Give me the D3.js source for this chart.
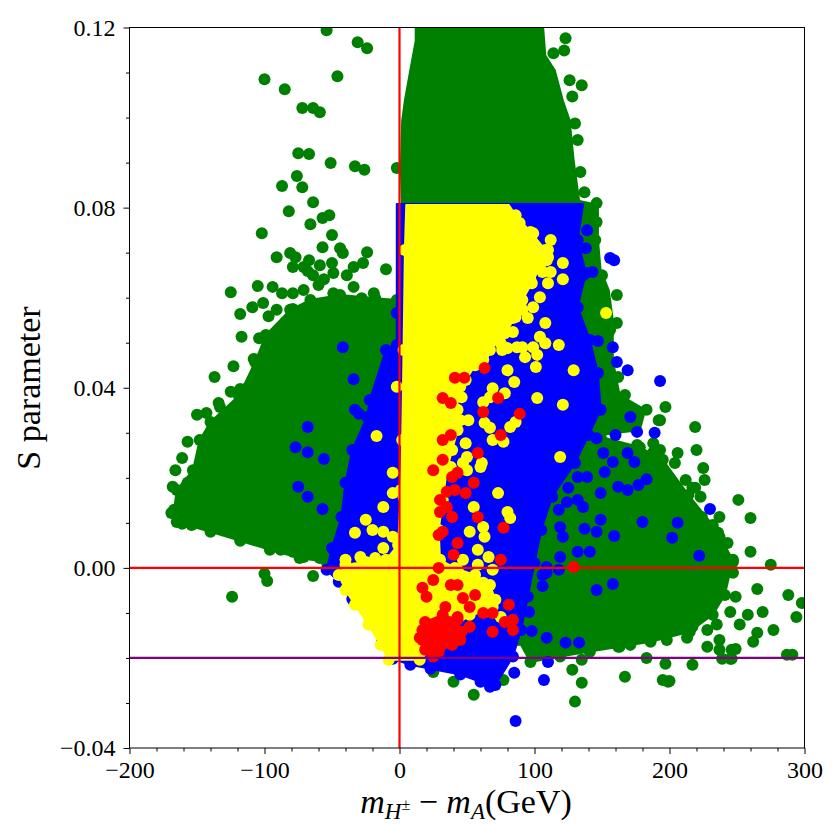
<!DOCTYPE html>
<html><head><meta charset="utf-8">
<script src="https://cdn.jsdelivr.net/npm/d3@7/dist/d3.min.js"></script>
<style>body{margin:0;background:#fff} svg{display:block} text{font-family:"Liberation Serif","Times New Roman",serif;fill:#000}</style>
</head><body><svg id="c" width="840" height="840"></svg>
<script>
// ---------- axis data ----------
const xDomain = [-200, 300];
const yDomain = [-0.04, 0.12];
const xTicks = [-200, -100, 0, 100, 200, 300];
const xTickLabels = ["\u2212200", "\u2212100", "0", "100", "200", "300"];
const xMinorTicks = [-180,-160,-140,-120,-80,-60,-40,-20,20,40,60,80,120,140,160,180,220,240,260,280];
const yTicks = [-0.04, 0.00, 0.04, 0.08, 0.12];
const yTickLabels = ["\u22120.04", "0.00", "0.04", "0.08", "0.12"];
const yMinorTicks = [-0.03,-0.02,-0.01,0.01,0.02,0.03,0.05,0.06,0.07,0.09,0.10,0.11];
const yLabel = "S parameter";
const vLines = [0];
const hLinesRed = [0];
const hLinesPurple = [-0.02];

// ---------- dense regions (outlines) ----------
const greenTopArea = [[12,0.1216],[106,0.1216],[108,0.1138],[115,0.1105],[121,0.1038],[126,0.0994],[129,0.0905],[132,0.0839],[134,0.0794],[2,0.0794],[1,0.0884],[2,0.0994],[4,0.1038],[8,0.1105],[12,0.1170]];
const greenStripArea = [[130,0.0817],[147,0.0806],[147,0.0728],[149,0.0661],[155,0.0617],[158,0.0550],[158,0.0462],[163,0.0384],[182,0.0351],[178,0.0306],[119,0.0284],[119,0.0817]];
const greenLeftArea = [[-81,0.0573],[-66,0.0595],[-44,0.0606],[-18,0.0599],[-2,0.0595],[-2,0.0328],[-23,0.0262],[-38,0.0151],[-46,0.0062],[-54,0.0013],[-74,0.0022],[-96,0.0040],[-118,0.0060],[-140,0.0080],[-161,0.0098],[-167,0.0129],[-165,0.0173],[-153,0.0217],[-148,0.0284],[-140,0.0324],[-119,0.0382],[-107,0.0457],[-99,0.0517]];
const greenRightArea = [[119,0.0284],[149,0.0291],[178,0.0268],[195,0.0240],[214,0.0162],[232,0.0095],[247,0.0018],[241,-0.0060],[232,-0.0104],[215,-0.0142],[186,-0.0164],[163,-0.0175],[141,-0.0186],[119,-0.0197],[97,-0.0209],[88,-0.0160],[95,0.0018],[106,0.0195]];
const blueArea = [[1,0.0808],[136,0.0808],[132,0.0728],[138,0.0655],[132,0.0579],[141,0.0506],[147,0.0433],[149,0.0351],[140,0.0295],[130,0.0233],[113,0.0158],[105,0.0084],[100,0.0011],[95,-0.0064],[90,-0.0138],[84,-0.0197],[71,-0.0260],[60,-0.0253],[45,-0.0237],[23,-0.0224],[8,-0.0215],[-5,-0.0202],[-13,-0.0164],[-22,-0.0113],[-35,-0.0069],[-45,-0.0031],[-54,-0.0004],[-50,0.0044],[-43,0.0113],[-40,0.0189],[-35,0.0262],[-24,0.0335],[-22,0.0373],[-10,0.0484],[-2,0.0495],[-2,0.0808]];
const yellowArea = [[5,0.0806],[81,0.0806],[86,0.0783],[97,0.0746],[108,0.0706],[104,0.0668],[98,0.0632],[91,0.0595],[86,0.0557],[78,0.0521],[67,0.0484],[56,0.0450],[49,0.0417],[43,0.0384],[43,0.0351],[43,0.0306],[39,0.0262],[35,0.0217],[32,0.0151],[29,0.0084],[30,0.0018],[41,0.0000],[56,-0.0016],[67,-0.0038],[71,-0.0071],[63,-0.0098],[52,-0.0104],[38,-0.0138],[23,-0.0182],[15,-0.0204],[-8,-0.0204],[-14,-0.0171],[-23,-0.0126],[-33,-0.0082],[-40,-0.0049],[-45,-0.0016],[-40,0.0007],[-25,0.0013],[-10,0.0018],[-1,0.0051],[1,0.0173],[2,0.0284],[3,0.0484],[4,0.0706]];
const redArea = [[19,-0.0120],[32,-0.0104],[43,-0.0115],[46,-0.0142],[39,-0.0171],[29,-0.0186],[19,-0.0182],[15,-0.0155]];

// ---------- individual points ----------
const greenPoints = [
[123,0.1176],[122,0.1149],[114,0.1143],[126,0.1083],[135,0.1072],[128,0.1047],[130,0.0987],[132,0.0950],[134,0.0879],[137,0.0834],[146,0.0810],[146,0.0768],[145,0.0728],[141,0.0695],[150,0.0650],[161,0.0606],[161,0.0544],[156,0.0528],[162,0.0424],[167,0.0384],[183,0.0351],[197,0.0357],[192,0.0328],[219,0.0313],[163,0.0357],
[-54,0.1194],[-31,0.1167],[-24,0.1154],[-100,0.1085],[-85,0.1063],[-46,0.1092],[-72,0.1021],[-64,0.1021],[-59,0.1012],[-75,0.0921],[-67,0.0919],[-51,0.0899],[-33,0.0892],[-26,0.0884],[-2,0.0888],[-76,0.0870],[-72,0.0845],[-87,0.0848],[-64,0.0812],[-82,0.0792],[-52,0.0783],[-57,0.0777],[-66,0.0763],[-102,0.0743],[-50,0.0739],[-57,0.0712],[-44,0.0710],[-42,0.0699],[-24,0.0701],[-81,0.0699],[-77,0.0690],[-91,0.0690],[-67,0.0683],[-79,0.0668],[-71,0.0668],[-59,0.0672],[-50,0.0677],[-34,0.0668],[-27,0.0677],[-10,0.0663],[-64,0.0650],[-49,0.0655],[-39,0.0650],[-68,0.0659],[-56,0.0641],
[-125,0.0612],[-105,0.0626],[-94,0.0624],[-87,0.0610],[-79,0.0610],[-71,0.0617],[-60,0.0628],[-49,0.0610],[-34,0.0624],[-19,0.0610],[-118,0.0564],[-109,0.0579],[-101,0.0588],[-97,0.0559],[-91,0.0573],[-79,0.0575],[-28,0.0599],[-12,0.0557],[-117,0.0513],[-104,0.0510],[-96,0.0510],[-85,0.0517],[-108,0.0464],[-123,0.0448],[-137,0.0424],[-94,0.0482],[-125,0.0391],[-118,0.0397],[-113,0.0399],[-134,0.0366],[-150,0.0340],[-143,0.0344],[-133,0.0357],
[-157,0.0280],[-161,0.0244],[-166,0.0217],[-168,0.0180],[-169,0.0122],[-165,0.0102],[-154,0.0095],[-145,0.0100],[-138,0.0107],[-125,0.0084],[-118,0.0069],[-105,0.0062],[-98,0.0055],[-88,0.0040],[-79,0.0036],[-71,0.0024],[-59,0.0022],[-100,-0.0013],[-98,-0.0029],[-64,-0.0018],[-124,-0.0064],[-157,0.0189],[-160,0.0151],[-153,0.0151],[-155,0.0129],[-148,0.0129],
[25,-0.0231],[40,-0.0253],[55,-0.0282],[72,-0.0226],[77,-0.0249],[128,-0.0226],[135,-0.0255],[130,-0.0297],[141,-0.0178],[167,-0.0242],[199,-0.0253],[183,-0.0200],[217,-0.0215],[197,-0.0213],[239,-0.0202],[246,-0.0202],[287,-0.0193],[291,-0.0193],[200,-0.0251],[195,-0.0249],[135,-0.0204],[162,-0.0175],[171,-0.0171],
[275,0.0007],[260,0.0036],[260,0.0111],[251,0.0151],[265,-0.0047],[288,-0.0060],[298,-0.0078],[294,-0.0109],[277,-0.0138],[265,-0.0144],[262,-0.0164],[246,-0.0182],[237,-0.0182],[228,-0.0175],[220,0.0262],[225,0.0222],[219,0.0178],[206,0.0255],[204,0.0233],[188,0.0257],[173,0.0313],[188,0.0277],[193,0.0328],[226,0.0195],[269,-0.0098],[252,-0.0126],[258,-0.0104],[245,-0.0098],[249,-0.0064],[237,0.0113],[224,0.0113],[232,0.0089],[237,0.0069],[243,0.0055],[247,0.0013],[247,-0.0011],[237,-0.0049],[235,-0.0126],[237,-0.0160],[249,-0.0180],[245,-0.0202],[191,-0.0142],[198,-0.0160],[213,-0.0155],[228,-0.0138],[217,-0.0131],[193,0.0262],[184,0.0235],[176,0.0273],[212,0.0195],[199,0.0195],[217,0.0178],[223,0.0158],[203,0.0162],[210,0.0155],[236,0.0078]
];
const bluePoints = [
[-42,0.0490],[-34,0.0419],[-33,0.0351],[-30,0.0342],[-17,0.0357],[-8,0.0468],[-68,0.0313],[-77,0.0268],[-68,0.0257],[-56,0.0242],[-75,0.0180],[-68,0.0158],[-57,0.0131],[-18,0.0313],[-2,0.0566],
[156,0.0688],[159,0.0683],[193,0.0415],[169,0.0439],[158,0.0490],[147,0.0504],[161,0.0457],[138,0.0710],[143,0.0657],[139,0.0750],[171,0.0335],[136,0.0650],
[230,0.0131],[206,0.0100],[202,0.0067],[222,0.0027],[180,0.0102],[159,0.0071],[146,0.0080],[149,0.0107],[137,0.0087],[121,0.0069],[119,0.0091],[132,0.0036],[141,0.0036],[119,0.0024],[118,-0.0004],[109,0.0002],[109,-0.0011],[106,-0.0040],[146,-0.0049],[158,-0.0036],[96,-0.0098],[98,-0.0140],[109,-0.0155],[123,-0.0166],[133,-0.0166],[110,-0.0209],[85,-0.0233],[107,-0.0249],
[183,0.0197],[177,0.0184],[169,0.0173],[162,0.0180],[149,0.0166],[152,0.0213],[151,0.0255],[158,0.0235],[169,0.0255],[174,0.0235],[139,0.0202],[132,0.0202],[125,0.0178],[113,0.0158],[118,0.0129],[124,0.0146],[132,0.0151],[136,0.0135],[176,0.0302],[189,0.0300],[160,0.0295],[146,0.0288],
[67,-0.0264],[61,-0.0244],[86,-0.0340],[106,-0.0016]
];
const yellowPoints = [
[89,0.0766],[91,0.0734],[99,0.0743],[112,0.0728],[110,0.0706],[110,0.0690],[102,0.0677],[121,0.0677],[112,0.0657],[121,0.0641],[110,0.0632],[97,0.0639],[104,0.0601],[153,0.0566],[97,0.0677],[109,0.0683],[106,0.0657],[89,0.0624],
[99,0.0579],[91,0.0573],[95,0.0555],[108,0.0544],[104,0.0513],[108,0.0499],[118,0.0495],[99,0.0490],[102,0.0473],[93,0.0468],[101,0.0446],[91,0.0490],[87,0.0490],[80,0.0488],[76,0.0484],[62,0.0473],[80,0.0439],[85,0.0413],[78,0.0388],[69,0.0399],[62,0.0368],[67,0.0379],[102,0.0377],[121,0.0362],[63,0.0322],[67,0.0311],[82,0.0313],[86,0.0324],[69,0.0284],[77,0.0280],[51,0.0328],[49,0.0277],[50,0.0246],[61,0.0233],[45,0.0328],[46,0.0379],[45,0.0402],[62,0.0462],[75,0.0499],[84,0.0524],[77,0.0524],[67,0.0521],[58,0.0506],[129,0.0439],[119,0.0246],[75,0.0568],[84,0.0555],
[60,0.0224],[50,0.0217],[73,0.0166],[55,0.0135],[80,0.0124],[82,0.0111],[62,0.0091],[52,0.0080],[63,0.0069],[58,0.0040],[66,0.0024],[69,-0.0004],[58,0.0007],[47,0.0018],[62,-0.0033],[58,-0.0053],[69,-0.0087],[75,-0.0109],[43,-0.0004],[38,0.0224],[47,0.0233],
[-5,0.0211],[-5,0.0166],[-25,0.0107],[-33,0.0078],[-20,0.0084],[-12,0.0080],[-5,0.0069],[-12,0.0044],[-18,0.0022],[-29,0.0024],[-40,0.0018],[12,0.0078],[3,0.0158],[15,0.0047],[-17,0.0293],[-2,0.0402],[-12,0.0135]
];
const redPoints = [
[63,0.0444],[41,0.0422],[48,0.0422],[32,0.0377],[38,0.0366],[73,0.0377],[62,0.0346],[89,0.0342],[75,0.0295],[38,0.0295],[32,0.0284],[58,0.0255],[32,0.0240],[25,0.0217],[39,0.0202],[43,0.0211],[55,0.0189],[49,0.0166],[41,0.0173],[35,0.0169],[30,0.0151],[30,0.0124],[35,0.0135],[39,0.0113],[58,0.0113],[77,0.0089],[32,0.0080],[29,0.0073],[43,0.0055],[40,0.0029],[75,0.0018],[29,0.0000],
[25,-0.0027],[17,-0.0044],[20,-0.0064],[38,-0.0038],[43,-0.0038],[47,-0.0067],[56,-0.0060],[81,-0.0082],[52,-0.0087],[62,-0.0100],[69,-0.0100],[78,-0.0120],[84,-0.0115],[84,-0.0138],[69,-0.0142],[45,-0.0160],[34,-0.0087],[43,-0.0109],[30,-0.0122],[17,-0.0138],[23,-0.0164],[30,-0.0175],[25,-0.0197],[38,-0.0131],[52,-0.0131],[17,-0.0160],[23,-0.0131],[129,0.0002]
];

// ---------- drawing ----------
const C = {green:"#008000", blue:"#0000ff", yellow:"#ffff00", red:"#ff0000", purple:"#800080"};
const box = {l:129.5, r:804.5, t:27.5, b:748};
const R = 6;
const svg = d3.select("#c");
const x = d3.scaleLinear().domain(xDomain).range([box.l, box.r]);
const y = d3.scaleLinear().domain(yDomain).range([box.b, box.t]);

svg.append("defs").append("clipPath").attr("id","clip")
  .append("rect").attr("x",box.l).attr("y",box.t).attr("width",box.r-box.l).attr("height",box.b-box.t);
const plot = svg.append("g").attr("clip-path","url(#clip)");

const area = d3.line().x(d=>x(d[0])).y(d=>y(d[1])).curve(d3.curveLinearClosed);
function drawPoints(data, col){
  plot.append("g").selectAll("circle").data(data).join("circle")
    .attr("cx",d=>x(d[0])).attr("cy",d=>y(d[1])).attr("r",R).attr("fill",col);
}
function drawArea(data, col, dots){
  plot.append("path").datum(data).attr("d",area).attr("fill",col)
    .attr("stroke",col).attr("stroke-width",2).attr("stroke-linejoin","round");
  if (dots) drawPoints(data.filter(d=>d[1] < 0.0795), col);
}
drawArea(greenTopArea, C.green, false);
drawArea(greenStripArea, C.green, false);
drawArea(greenLeftArea, C.green, true);
drawArea(greenRightArea, C.green, true);
drawPoints(greenPoints, C.green);
drawArea(blueArea, C.blue, true);
drawPoints(bluePoints, C.blue);
drawArea(yellowArea, C.yellow, true);
drawPoints(yellowPoints, C.yellow);
drawArea(redArea, C.red, true);
drawPoints(redPoints, C.red);

// reference lines
plot.selectAll(".vl").data(vLines).join("line").attr("x1",d=>x(d)).attr("x2",d=>x(d))
  .attr("y1",box.t).attr("y2",box.b).attr("stroke",C.red).attr("stroke-width",2.2);
plot.selectAll(".hl").data(hLinesRed).join("line").attr("y1",d=>y(d)).attr("y2",d=>y(d))
  .attr("x1",box.l).attr("x2",box.r).attr("stroke",C.red).attr("stroke-width",2.2);
plot.selectAll(".hp").data(hLinesPurple).join("line").attr("y1",d=>y(d)).attr("y2",d=>y(d))
  .attr("x1",box.l).attr("x2",box.r).attr("stroke",C.purple).attr("stroke-width",2.2);

// axes
const fs = 24;
const gx = svg.append("g").attr("transform",`translate(0,${box.b})`)
  .call(d3.axisBottom(x).tickValues(xTicks).tickFormat((d,i)=>xTickLabels[i]).tickSize(6).tickPadding(7).tickSizeOuter(0));
const gxm = svg.append("g").attr("transform",`translate(0,${box.b})`)
  .call(d3.axisBottom(x).tickValues(xMinorTicks).tickFormat("").tickSize(3.5).tickSizeOuter(0));
const gy = svg.append("g").attr("transform",`translate(${box.l},0)`)
  .call(d3.axisLeft(y).tickValues(yTicks).tickFormat((d,i)=>yTickLabels[i]).tickSize(6).tickPadding(8).tickSizeOuter(0));
const gym = svg.append("g").attr("transform",`translate(${box.l},0)`)
  .call(d3.axisLeft(y).tickValues(yMinorTicks).tickFormat("").tickSize(3.5).tickSizeOuter(0));
[gx,gxm,gy,gym].forEach(g=>{
  g.select(".domain").remove();
  g.selectAll("line").attr("stroke","#000").attr("stroke-width",1);
  g.selectAll("text").attr("font-size",fs).attr("fill","#000");
});

// frame
svg.append("rect").attr("x",box.l).attr("y",box.t).attr("width",box.r-box.l).attr("height",box.b-box.t)
  .attr("fill","none").attr("stroke","#000").attr("stroke-width",1);

// labels
svg.append("text").attr("transform","translate(40,388) rotate(-90)").attr("text-anchor","middle")
  .attr("font-size",34).text(yLabel);

const xl = svg.append("text").attr("x",466).attr("y",813).attr("text-anchor","middle").attr("font-size",34);
xl.append("tspan").attr("font-style","italic").text("m");
xl.append("tspan").attr("font-style","italic").attr("font-size",23).attr("dy",6).text("H");
xl.append("tspan").attr("font-size",16).attr("dy",-9).text("\u00b1");
xl.append("tspan").attr("dy",3).text(" \u2212 ");
xl.append("tspan").attr("font-style","italic").text("m");
xl.append("tspan").attr("font-style","italic").attr("font-size",23).attr("dy",6).text("A");
xl.append("tspan").attr("dy",-6).text("(GeV)");
</script></body></html>
